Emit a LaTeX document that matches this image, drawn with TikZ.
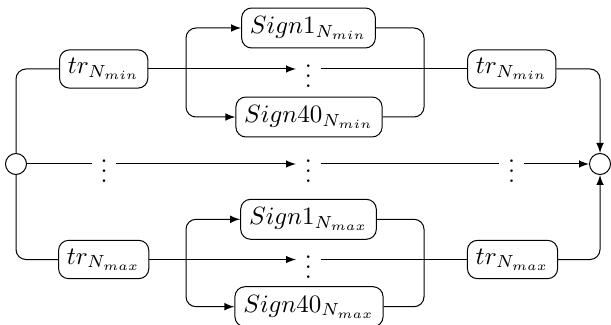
\documentclass[tikz,border=0pt]{standalone}
\usetikzlibrary{arrows}
\begin{document}
\begin{tikzpicture}[x=0.4pt,y=-0.4pt,
  box/.style={draw,rounded corners=4pt,inner sep=3.33pt},
  circ/.style={draw,circle,minimum size=8.4pt,inner sep=0pt},
  dotsnode/.style={inner sep=3.33pt},
  arr/.style={-latex},
  conn/.style={rounded corners=4pt}]
\useasboundingbox (0,0) rectangle (611,325);
% junction circles
\node[circ] (cl) at (16,164) {};
\node[circ] (cr) at (600,164) {};
% tr boxes
\node[box] (ta) at (103.7,69) {$tr_{N_{min}}$};
\node[box] (tb) at (511.7,69) {$tr_{N_{min}}$};
\node[box] (tc) at (103.7,259.5) {$tr_{N_{max}}$};
\node[box] (td) at (512.5,259.5) {$tr_{N_{max}}$};
% sign boxes
\node[box] (s1a) at (308.5,28) {$Sign1_{N_{min}}$};
\node[box] (s40a) at (309,117) {$Sign40_{N_{min}}$};
\node[box] (s1b) at (308.5,219.3) {$Sign1_{N_{max}}$};
\node[box] (s40b) at (309,306.7) {$Sign40_{N_{max}}$};
% dots
\node[dotsnode] (va) at (308.3,69) {$\vdots$};
\node[dotsnode] (vb) at (308.3,259.5) {$\vdots$};
\node[dotsnode] (m1) at (104,164) {$\vdots$};
\node[dotsnode] (m2) at (308.3,164) {$\vdots$};
\node[dotsnode] (m3) at (511.7,164) {$\vdots$};
% split / merge points
\coordinate (spa) at (186,69);
\coordinate (mga) at (424,69);
\coordinate (spb) at (186,259.5);
\coordinate (mgb) at (424,259.5);
% top branch
\draw[conn] (cl.north) |- (ta.west);
\draw[arr] (ta.east) -- (va.west);
\draw[arr,conn] (spa) |- (s1a.west);
\draw[arr,conn] (spa) |- (s40a.west);
\draw[conn] (s1a.east) -| (mga);
\draw[conn] (s40a.east) -| (mga);
\draw (va.east) -- (tb.west);
\draw[arr,conn] (tb.east) -| (cr.north);
% bottom branch
\draw[conn] (cl.south) |- (tc.west);
\draw[arr] (tc.east) -- (vb.west);
\draw[arr,conn] (spb) |- (s1b.west);
\draw[arr,conn] (spb) |- (s40b.west);
\draw[conn] (s1b.east) -| (mgb);
\draw[conn] (s40b.east) -| (mgb);
\draw (vb.east) -- (td.west);
\draw[arr,conn] (td.east) -| (cr.south);
% middle row
\draw (cl.east) -- (m1.west);
\draw[arr] (m1.east) -- (m2.west);
\draw (m2.east) -- (m3.west);
\draw[arr] (m3.east) -- (cr.west);
\end{tikzpicture}
\end{document}
